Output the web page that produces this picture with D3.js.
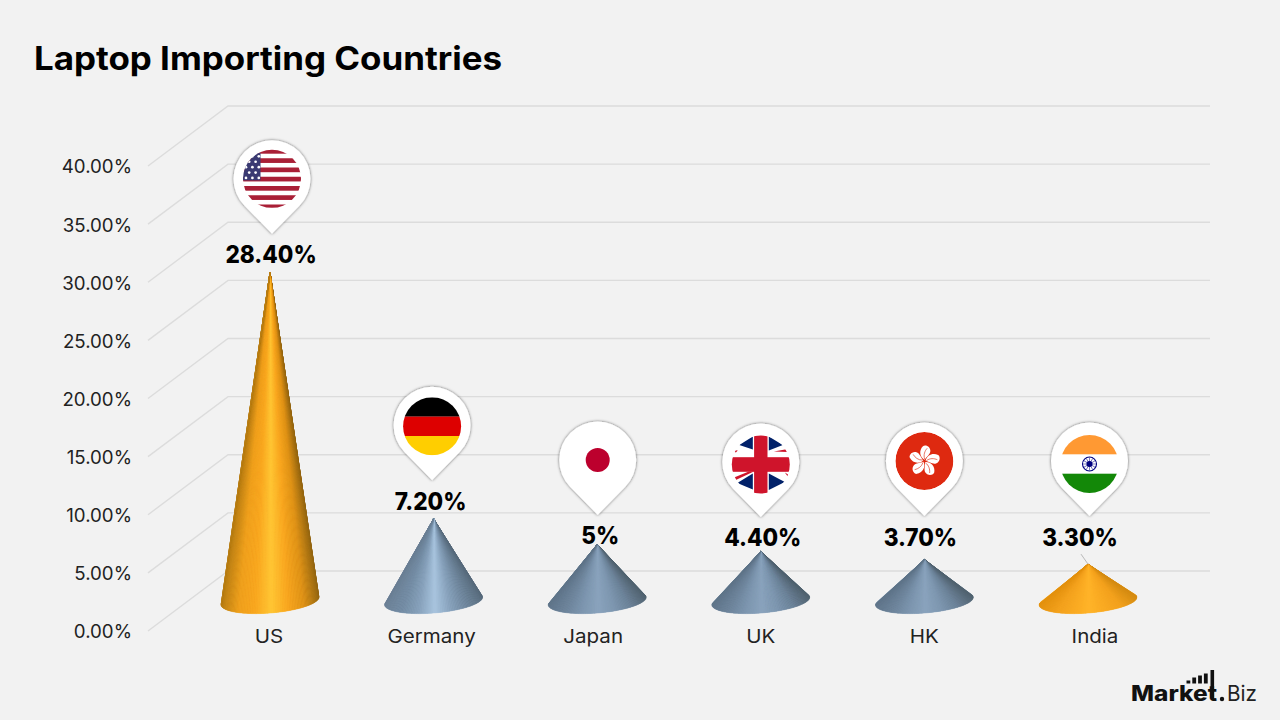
<!DOCTYPE html>
<html><head><meta charset="utf-8">
<script src="https://cdnjs.cloudflare.com/ajax/libs/d3/7.8.5/d3.min.js"></script>
<style>html,body{margin:0;padding:0;background:#f2f2f2}svg{display:block}text{font-family:Inter,"Noto Sans",sans-serif}</style>
</head><body><svg id="c" width="1280" height="720"></svg>
<script>
const categories=["US","Germany","Japan","UK","HK","India"];
const values=[28.4,7.2,5,4.4,3.7,3.3];
const valueLabels=["28.40%","7.20%","5%","4.40%","3.70%","3.30%"];
const tickValues=[0,5,10,15,20,25,30,35,40];
const tickLabels=["0.00%","5.00%","10.00%","15.00%","20.00%","25.00%","30.00%","35.00%","40.00%"];
const titleText="Laptop Importing Countries";
const amberStops=["#b87d14","#ee9e1c","#f9a61f","#ffc635","#f9a61f","#de9016","#946612"];
const steelStops=["#6a7f94","#728aa2","#86a0ba","#a9c4de","#86a0ba","#6c8399","#56697a"];
const steelSoftStops=["#5f7489","#6d849b","#7d96af","#8aa3bd","#7d96af","#6a8096","#50626f"];
const indiaStops=["#e3910f","#f2a01c","#f9a922","#ffb429","#f9a922","#f2a01c","#d48b12"];
const coneStops=[amberStops,steelStops,steelSoftStops,steelSoftStops,steelSoftStops,indiaStops];

const svg=d3.select("#c");
svg.append("rect").attr("width",1280).attr("height",720).attr("fill","#f2f2f2");
const defs=svg.append("defs");
const f=defs.append("filter").attr("id","pinShadow").attr("x","-30%").attr("y","-30%").attr("width","160%").attr("height","160%");
f.append("feDropShadow").attr("dx",0).attr("dy",0).attr("stdDeviation",1.7).attr("flood-color","#000").attr("flood-opacity",0.62);

// scales
const depth=60, backLeft=228, frontLeft=148, right=1210;
const yBack=d3.scaleLinear().domain([0,40]).range([571,106]);
const yFront=v=>yBack(v)+depth;
const yMid=v=>yBack(v)+depth/2;
const x=d3.scalePoint().domain(categories).range([270,1088]);

// grid
const grid=svg.append("g").attr("fill","none").attr("stroke","#dcdcdc").attr("stroke-width",1.4);
grid.selectAll("path").data(tickValues).join("path")
  .attr("d",v=>d3.line()([[frontLeft,yFront(v)],[backLeft,yBack(v)],[right,yBack(v)]]));

// y axis
const axis=d3.axisLeft(d3.scaleLinear().domain([0,40]).range([yFront(0)+1,yFront(40)+1]))
  .tickValues(tickValues).tickFormat((d,i)=>tickLabels[i]).tickSize(0).tickPadding(0);
const ax=svg.append("g").attr("transform","translate(132,0)").call(axis);
ax.select(".domain").remove();
ax.selectAll("text").attr("font-size",18.7).attr("fill","#222").attr("font-family",'Inter,"Noto Sans",sans-serif');

// cones
const rx=49, ry=12, tilt=-4.7*Math.PI/180;
const ellipsePoint=(cx,cy,t)=>[cx+rx*Math.cos(t)*Math.cos(tilt)-ry*Math.sin(t)*Math.sin(tilt),
                               cy+rx*Math.cos(t)*Math.sin(tilt)+ry*Math.sin(t)*Math.cos(tilt)];
const line=d3.line();
categories.forEach((c,i)=>{
  const cx=x(c), base=yMid(0), tip=[cx,yMid(values[i])+1.5];
  const g=svg.append("g");
  const shade=d3.scaleLinear().domain(d3.range(7).map(k=>-1+k/3)).range(coneStops[i]).clamp(true);
  const all=d3.range(0,2*Math.PI,Math.PI/90).map(t=>ellipsePoint(cx,base,t));
  const hull=d3.polygonHull(all.concat([tip]));
  g.append("path").attr("d",line(hull)+"Z").attr("fill",shade(0));
  const n=90, start=-0.12, end=Math.PI+0.12;
  d3.range(n).forEach(k=>{
    const t0=start+(end-start)*k/n, t1=start+(end-start)*(k+1)/n;
    const a=ellipsePoint(cx,base,t0), b=ellipsePoint(cx,base,t1);
    const col=shade(Math.cos((t0+t1)/2));
    g.append("path").attr("d",line([tip,a,b])+"Z").attr("fill",col).attr("stroke",col).attr("stroke-width",0.5);
  });
});

// leader on India
const iTip=yMid(values[5])+1.5;
svg.append("path").attr("d",line([[x("India")-7,iTip-10],[x("India"),iTip]])).attr("stroke","#aaa").attr("stroke-width",0.8).attr("fill","none");

// fit helper: stretch a text horizontally by a factor of its natural width
const stretch=(sel,k)=>sel.each(function(){
  d3.select(this).attr("textLength",this.getComputedTextLength()*k).attr("lengthAdjust","spacingAndGlyphs");
});

// labels
const labelDx=[1,-3,3,2,-4,-8];
const labelY=(v,i)=> v>6 ? yMid(v)-16 : (i===2?535:537);
svg.append("g").selectAll("text").data(valueLabels).join("text")
  .attr("x",(d,i)=>x(categories[i])+labelDx[i]).attr("y",(d,i)=>labelY(values[i],i))
  .attr("dy","0.36em").attr("text-anchor","middle").attr("font-size",24).attr("font-weight",800).attr("fill","#000")
  .text(d=>d).call(stretch,0.94);

const catDx=[-1,-2,-4,0,0,7];
svg.append("g").selectAll("text").data(categories).join("text")
  .attr("x",d=>x(d)+catDx[categories.indexOf(d)]).attr("y",643)
  .attr("text-anchor","middle").attr("font-size",18.5).attr("fill","#222").text(d=>d).call(stretch,1.11);

// pins
const pinR=38.5, pinTipDrop=55, flagR=29;
const pinDx=[2,-1.5,0.5,0,0,1.5];
const flagDy=[0,1,0,2.5,0,3];
const pinTipY=(v,i)=> v>6 ? yMid(v)-37 : [0,0,515,517,516,516][i];
const flags={
 US(g){
   d3.range(7).forEach(k=>g.append("rect").attr("x",-30).attr("y",-27.5+k*9.25-2.35).attr("width",60).attr("height",4.7).attr("fill","#a91f36"));
   g.append("rect").attr("x",-30).attr("y",-26).attr("width",18.5).attr("height",27.5).attr("fill","#3a3a72");
   d3.range(5).forEach(r=>d3.range(r%2?2:3).forEach(q=>{
     g.append("circle").attr("cx",-26+(r%2?3.2:0)+q*6.4).attr("cy",-22.5+r*5.4).attr("r",1.35).attr("fill","#fff");
   }));
 },
 Germany(g){
   [["#000",-29],["#dd0000",-9.7],["#ffce00",9.7]].forEach(([c,y])=>g.append("rect").attr("x",-30).attr("y",y).attr("width",60).attr("height",19.4).attr("fill",c));
 },
 Japan(g){ g.append("circle").attr("r",12).attr("fill","#bc002d"); },
 UK(g){
   const navy="#012169",red="#cf142b";
   const tris=[[[-8,-28],[-8,-15],[-21.5,-19.5]],[[8,-28],[8,-14],[22,-19.5]],
               [[-8,9],[-8,25],[-23.5,18.5]],[[8,9],[8,25.5],[24,17.5]]];
   tris.forEach(p=>g.append("path").attr("d",line(p)+"Z").attr("fill",navy));
   [[[13,-13],[27,-15.5],[27,-12.5]],[[-29,-14.5],[-23,-14],[-25,-12]],
    [[-28,13.5],[-12,7],[-7,7],[-26,16]],[[24,8],[29,11],[27,12]]].forEach(p=>
     g.append("path").attr("d",line(p)+"Z").attr("fill",red));
   g.append("rect").attr("x",-6.7).attr("y",-30).attr("width",13.4).attr("height",60).attr("fill",red);
   g.append("rect").attr("x",-30).attr("y",-7.3).attr("width",60).attr("height",14.6).attr("fill",red);
 },
 HK(g){
   g.append("circle").attr("r",29).attr("fill","#de2910");
   d3.range(5).forEach(k=>{
     const pet=g.append("g").attr("transform",`rotate(${k*72+8})`);
     pet.append("path").attr("d","M0,-1.2 C-5.5,-3.5 -7,-10 -3.5,-14.5 C-2,-16.5 3.5,-16 4.5,-11 C5,-7.5 1.5,-4.5 0,-1.2Z").attr("fill","#fff");
     pet.append("path").attr("d","M0,-2 C-2,-6 -1,-10 1,-13").attr("fill","none").attr("stroke","#de2910").attr("stroke-width",0.6);
   });
 },
 India(g){
   g.append("rect").attr("x",-30).attr("y",-29).attr("width",60).attr("height",19.3).attr("fill","#ff9933");
   g.append("rect").attr("x",-30).attr("y",9.7).attr("width",60).attr("height",19.3).attr("fill","#138808");
   g.append("circle").attr("r",7).attr("fill","#fff").attr("stroke","#000080").attr("stroke-width",1.1);
   g.append("circle").attr("r",3).attr("fill","#000080");
   d3.range(12).forEach(k=>g.append("line").attr("y1",0).attr("y2",-6.4).attr("transform",`rotate(${k*30})`).attr("stroke","#000080").attr("stroke-width",0.5));
 }
};
categories.forEach((c,i)=>{
  const tipY=pinTipY(values[i],i), cx=x(c)+pinDx[i], cy=tipY-pinTipDrop;
  const g=svg.append("g").attr("transform",`translate(${cx},${cy})`);
  const ang=Math.acos(pinR/pinTipDrop);
  const sx=pinR*Math.sin(ang), sy=pinR*Math.cos(ang);
  g.append("path").attr("d",`M${-sx},${sy}A${pinR},${pinR} 0 1 1 ${sx},${sy}L0,${pinTipDrop}Z`)
    .attr("fill","#fff").attr("filter","url(#pinShadow)");
  const id="clip"+i;
  defs.append("clipPath").attr("id",id).append("circle").attr("r",flagR);
  const fg=g.append("g").attr("transform",`translate(0,${flagDy[i]})`).append("g").attr("clip-path",`url(#${id})`);
  flags[c](fg);
});

// title
svg.append("text").attr("x",34).attr("y",70).attr("font-size",32).attr("font-weight",700).attr("fill","#000")
  .attr("textLength",468).attr("lengthAdjust","spacingAndGlyphs").text(titleText);

// logo
const logo=svg.append("g");
logo.append("text").attr("x",1131).attr("y",701).attr("font-size",21).attr("font-weight",800).attr("fill","#111")
  .attr("textLength",86).attr("lengthAdjust","spacingAndGlyphs").text("Market");
logo.append("circle").attr("cx",1222).attr("cy",699).attr("r",2.2).attr("fill","#111");
logo.append("text").attr("x",1227).attr("y",701).attr("font-size",21).attr("fill","#222")
  .attr("textLength",30).attr("lengthAdjust","spacingAndGlyphs").text("Biz");
const logoBars=[3,6,8,10];
logo.selectAll("rect").data(logoBars).join("rect")
  .attr("x",(d,i)=>1186.5+i*5.8).attr("y",d=>683.5-d).attr("width",3.8).attr("height",d=>d).attr("fill","#111");
logo.append("rect").attr("x",1210.5).attr("y",670).attr("width",3.6).attr("height",28).attr("fill","#111");
</script></body></html>
